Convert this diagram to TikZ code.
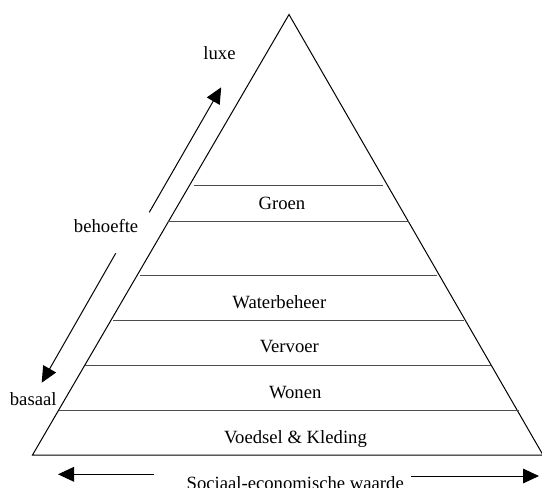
\documentclass[tikz,border=0pt]{standalone}
\usepackage{fontspec}
\setmainfont{Liberation Serif}
\usetikzlibrary{arrows.meta}
\tikzset{every picture/.style={line width=0.75pt}}

\begin{document}
\begin{tikzpicture}[x=0.75pt,y=0.75pt,yscale=-1,xscale=1,
	laag/.style={draw=black!70, line width=1pt},
	pijl/.style={-{Triangle[length=12pt,width=11pt]}},
	label/.style={anchor=base, inner sep=0pt, font=\fontsize{14}{16}\selectfont}]
		\useasboundingbox (0,0) rectangle (542,487);
		
		%Shape: Triangle [id:piramide]
		\coordinate (top) at (289,14.5);
		\coordinate (linksonder) at (32.5,455);
		\coordinate (rechtsonder) at (543,455);
		\draw (top) -- (linksonder) -- (rechtsonder) -- cycle ;
		
		%Straight Lines [id:lagen]
		\coordinate (l1a) at (194.3,185.7); \coordinate (l1b) at (383,185.7);
		\coordinate (l2a) at (168.3,221.7); \coordinate (l2b) at (409,221.7);
		\coordinate (l3a) at (140,275.7);   \coordinate (l3b) at (437.3,275.7);
		\coordinate (l4a) at (113,320.7);   \coordinate (l4b) at (463.9,320.7);
		\coordinate (l5a) at (85.4,365.3);  \coordinate (l5b) at (490.8,365.3);
		\coordinate (l6a) at (58.8,410.7);  \coordinate (l6b) at (518.5,410.7);
		\foreach \i in {1,...,6}
			\draw [laag] (l\i a) -- (l\i b) ;
		
		%Straight Lines [id:behoefte pijlen]
		\coordinate (opstart) at (149.3,212.3);
		\coordinate (opeind) at (221.2,87.3);
		\draw [pijl] (opstart) -- (opeind) ;
		\coordinate (neerstart) at (115.7,253.3);
		\coordinate (neereind) at (41.7,382.7);
		\draw [pijl] (neerstart) -- (neereind) ;
		
		%Straight Lines [id:waarde pijlen]
		\coordinate (linksstart) at (154.3,474.3);
		\coordinate (linkseind) at (58,474.3);
		\draw [pijl] (linksstart) -- (linkseind) ;
		\coordinate (rechtsstart) at (411,476);
		\coordinate (rechtseind) at (539,476);
		\draw [pijl] (rechtsstart) -- (rechtseind) ;
		
		% Text Node
		\node [label] (groen) at (282,209) {Groen};
		% Text Node
		\node [label] (water) at (279.3,308) {Waterbeheer};
		% Text Node
		\node [label] (vervoer) at (289.3,352.7) {Vervoer};
		% Text Node
		\node [label] (wonen) at (295.2,398) {Wonen};
		% Text Node
		\node [label] (voedsel) at (295.5,443.3) {Voedsel \& Kleding};
		% Text Node
		\node [label] (luxe) at (219.5,59.3) {luxe};
		% Text Node
		\node [label] (behoefte) at (106.1,232.3) {behoefte};
		% Text Node
		\node [label] (basaal) at (33.2,405) {basaal};
		% Text Node
		\node [label] (waarde) at (295.2,489) {Sociaal-economische waarde};
		
\end{tikzpicture}
\end{document}
